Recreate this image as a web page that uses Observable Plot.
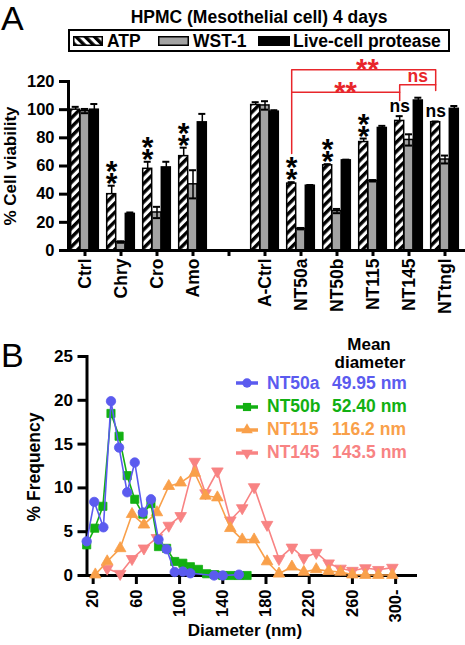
<!DOCTYPE html>
<html>
<head>
<meta charset="utf-8">
<script src="https://cdn.jsdelivr.net/npm/d3@7"></script>
<script src="https://cdn.jsdelivr.net/npm/@observablehq/plot@0.6"></script>
<style>
html, body { margin: 0; padding: 0; background: #fff; }
#root { position: relative; width: 465px; height: 645px; overflow: hidden; font-family: "Liberation Sans", Arial, Helvetica, sans-serif; font-weight: bold; color: #000; }
.abs { position: absolute; white-space: nowrap; line-height: 1; }
</style>
</head>
<body>
<svg width="0" height="0" style="position:absolute">
  <defs>
    <pattern id="hatch" patternUnits="userSpaceOnUse" width="6.5" height="6.5" patternTransform="rotate(45)">
      <rect width="6.5" height="6.5" fill="#fff"></rect>
      <rect width="3.4" height="6.5" fill="#000"></rect>
    </pattern>
    <pattern id="hatchL" patternUnits="userSpaceOnUse" width="6.5" height="6.5" patternTransform="rotate(-45)">
      <rect width="6.5" height="6.5" fill="#fff"></rect>
      <rect width="3.4" height="6.5" fill="#000"></rect>
    </pattern>
  </defs>
</svg>
<div id="root"></div>
<script>
// ---------- Panel A data ----------
const categories = ["Ctrl", "Chry", "Cro", "Amo", " ", "A-Ctrl", "NT50a", "NT50b", "NT115", "NT145", "NTtngl"];
const groups = ["Ctrl", "Chry", "Cro", "Amo", "A-Ctrl", "NT50a", "NT50b", "NT115", "NT145", "NTtngl"];
const atp     = [100, 40, 58, 67, 103.3, 47.5, 60.5, 77, 92, 91.1];
const atpErr  = [2, 6, 5, 6, 2, 1, 0.8, 2.5, 3.4, 0.5];
const wst     = [99, 6, 27, 47, 103, 15.5, 28, 49.5, 78.5, 64.6];
const wstErr  = [1.5, 0.5, 4, 10, 3, 0.5, 1.5, 0.5, 4, 2.8];
const prot    = [100, 26, 59, 91, 98.6, 46, 64, 87, 106.5, 100.6];
const protErr = [4, 1, 4, 6, 1, 0.5, 0.5, 1.5, 2, 2];
const atpSig  = ["", "**", "**", "**", "", "**", "**", "**", "ns", "ns"];
const yTicksA = [0, 20, 40, 60, 80, 100, 120];
const seriesA = ["ATP", "WST-1", "Live-cell protease"];

// ---------- Panel B data ----------
const nt50aX = [14, 21, 29.5, 36.5, 44, 51.5, 58.5, 66, 73.5, 80.5, 88, 95.5, 103, 110, 132, 140, 155];
const nt50aY = [3.9, 8.4, 5.5, 19.9, 14.6, 9.5, 12.9, 7.2, 8.7, 4.1, 3.0, 0.4, 0.45, 0.25, 0.0, 0.0, 0.1];
const nt50bX = [14, 21.5, 29, 36.5, 44, 51.5, 58.5, 66, 73.5, 80.5, 88, 95.5, 103, 110, 117.5, 125, 132.5, 140, 147.5, 155, 162.5];
const nt50bY = [3.5, 5.4, 7.9, 18.5, 15.9, 11.4, 8.7, 7.0, 8.2, 3.3, 3.1, 1.6, 1.4, 1.0, 0.7, 0.2, 0.1, 0, 0, 0, 0];
const nt115X = [22, 33, 45, 56, 67, 79, 90, 101, 114, 124, 135, 147, 158, 169, 181, 192, 204, 215, 226.5, 238, 249, 260, 272, 284, 297];
const nt115Y = [0.1, 1.6, 3.1, 7.0, 5.8, 7.2, 10.2, 10.6, 11.7, 9.1, 8.9, 5.4, 4.1, 4.1, 1.6, 0.2, 1.0, 0.4, 0.7, 0.5, 0.4, 0.1, 0.05, 0.05, 0.05];
const nt145X = [33, 45, 56, 67, 79, 90, 101, 114, 124, 135, 147, 158, 169, 181, 192, 204, 215, 226.5, 238, 249, 260, 272, 284, 297];
const nt145Y = [0.8, 0.2, 1.9, 3.1, 4.3, 5.7, 6.8, 13.0, 9.4, 11.9, 6.3, 7.7, 10.1, 5.8, 1.9, 3.2, 2.0, 2.6, 1.4, 0.8, 0.55, 0.85, 0.65, 0.9];
const seriesB = ["NT50a", "NT50b", "NT115", "NT145"];
const meanDiam = ["49.95 nm", "52.40 nm", "116.2 nm", "143.5 nm"];
const xTicksB = [20, 60, 100, 140, 180, 220, 260, 300];
const yTicksB = [0, 5, 10, 15, 20, 25];

// ---------- styles ----------
const FONT = '"Liberation Sans", Arial, Helvetica, sans-serif';
const RED = "#e8262b";
const colorsB = ["#5b5bef", "#12b012", "#f9a04a", "#f88383"];
const BW = 9.31; // bar width offset (band width)

const root = document.getElementById("root");

const rowsA = groups.map((g, i) => ({
  group: g, atp: atp[i], atpErr: atpErr[i], wst: wst[i], wstErr: wstErr[i],
  prot: prot[i], protErr: protErr[i], sig: atpSig[i]
}));
const starRows = rowsA.filter(d => d.sig === "**");
const nsRows = rowsA.filter(d => d.sig === "ns");

// significance brackets (drawn at the ATP bars)
const brackets = [
  {id: "low", x: "NT50a", y: 68.9}, {id: "low", x: "NT50a", y: 112.4}, {id: "low", x: "NT145", y: 112.4}, {id: "low", x: "NT145", y: 106.5},
  {id: "up", x: "NT50a", y: 112.4}, {id: "up", x: "NT50a", y: 128.3}, {id: "up", x: "NTtngl", y: 128.3}, {id: "up", x: "NTtngl", y: 113.6},
  {id: "ns", x: "NT145", y: 112.4}, {id: "ns", x: "NT145", y: 117.7}, {id: "ns", x: "NTtngl", y: 117.7}
];

const plotA = Plot.plot({
  width: 465, height: 265,
  marginLeft: 68, marginRight: 2, marginTop: 41, marginBottom: 55,
  style: {background: "transparent", fontFamily: FONT, fontWeight: "bold", fontSize: "16px", color: "#000", overflow: "visible"},
  x: {type: "band", domain: categories, paddingInner: 0.742, paddingOuter: 0.342, align: 0.46, axis: null},
  y: {domain: [0, 120], axis: null},
  marks: [
    Plot.barY(rowsA, {x: "group", y: "atp", dx: -BW, fill: "url(#hatch)", stroke: "#000", strokeWidth: 1.5}),
    Plot.barY(rowsA, {x: "group", y: "wst", fill: "#a3a3a3", stroke: "#000", strokeWidth: 1.5}),
    Plot.barY(rowsA, {x: "group", y: "prot", dx: BW, fill: "#000", stroke: "#000", strokeWidth: 1.5}),
    // error bars
    Plot.ruleX(rowsA, {x: "group", y1: "atp", y2: d => d.atp + d.atpErr, dx: -BW, stroke: "#000", strokeWidth: 1.5}),
    Plot.tickY(rowsA, {x: "group", y: d => d.atp + d.atpErr, dx: -BW, insetLeft: 1, insetRight: 1, stroke: "#000", strokeWidth: 2}),
    Plot.ruleX(rowsA, {x: "group", y1: d => d.wst - d.wstErr, y2: d => d.wst + d.wstErr, stroke: "#000", strokeWidth: 1.5}),
    Plot.tickY(rowsA, {x: "group", y: d => d.wst + d.wstErr, insetLeft: 1, insetRight: 1, stroke: "#000", strokeWidth: 2}),
    Plot.tickY(rowsA, {x: "group", y: d => d.wst - d.wstErr, insetLeft: 1, insetRight: 1, stroke: "#000", strokeWidth: 2}),
    Plot.ruleX(rowsA, {x: "group", y1: "prot", y2: d => d.prot + d.protErr, dx: BW, stroke: "#000", strokeWidth: 1.5}),
    Plot.tickY(rowsA, {x: "group", y: d => d.prot + d.protErr, dx: BW, insetLeft: 1, insetRight: 1, stroke: "#000", strokeWidth: 2}),
    // axes
    Plot.frame({anchor: "left", strokeWidth: 3}),
    Plot.frame({anchor: "bottom", strokeWidth: 3}),
    Plot.axisY({ticks: yTicksA, tickSize: 9, tickPadding: 5, strokeWidth: 3, label: null, fontSize: 16.5}),
    Plot.axisX({tickSize: 6, tickPadding: 2, tickRotate: -90, strokeWidth: 3, label: null, fontSize: 17.5, tickFormat: d => d.trim()}),
    // significance marks (two asterisks stacked vertically)
    Plot.text(starRows, {x: "group", y: d => d.atp + d.atpErr, text: () => "*\n*", dx: -BW, dy: 7, lineAnchor: "bottom", lineHeight: 0.4, fontSize: 30, fill: "#000"}),
    Plot.text(nsRows, {x: "group", y: d => d.atp + d.atpErr, text: "sig", dx: -BW, dy: -4, lineAnchor: "bottom", fontSize: 17.5, fill: "#000"}),
    Plot.line(brackets, {x: "x", y: "y", z: "id", dx: -BW, stroke: RED, strokeWidth: 1.5, curve: "linear"}),
    Plot.text(["**"], {x: () => "NT50b", y: () => 105.5, text: d => d, dx: 8.6, lineAnchor: "bottom", fontSize: 29, fill: RED}),
    Plot.text(["**"], {x: () => "NT115", y: () => 121.8, text: d => d, dx: -5.6, lineAnchor: "bottom", fontSize: 29, fill: RED}),
    Plot.text(["ns"], {x: () => "NT145", y: () => 119.3, text: d => d, dx: 8.7, lineAnchor: "bottom", fontSize: 17.5, fill: RED})
  ]
});
plotA.style.position = "absolute";
plotA.style.left = "0px";
plotA.style.top = "40px";
root.appendChild(plotA);

// ---------- Panel B ----------
const triangleDown = {
  draw(context, size) {
    const y = -Math.sqrt(size / (Math.sqrt(3) * 3));
    context.moveTo(0, -y * 2);
    context.lineTo(-Math.sqrt(3) * y, y);
    context.lineTo(Math.sqrt(3) * y, y);
    context.closePath();
  }
};
const symbolsB = ["circle", "square", "triangle", triangleDown];
const radiiB = [4.7, 4.6, 4.3, 4.3];
const xsB = [nt50aX, nt50bX, nt115X, nt145X];
const ysB = [nt50aY, nt50bY, nt115Y, nt145Y];
const seriesRows = xsB.map((xs, s) => xs.map((x, i) => ({x, y: ysB[s][i]})));
const drawOrder = [3, 2, 1, 0];
const lineMarks = [];
for (const s of drawOrder) {
  lineMarks.push(Plot.line(seriesRows[s], {x: "x", y: "y", stroke: colorsB[s], strokeWidth: 1.6}));
  lineMarks.push(Plot.dot(seriesRows[s], {x: "x", y: "y", symbol: symbolsB[s], r: radiiB[s], fill: colorsB[s], stroke: colorsB[s], strokeWidth: 0.8}));
}

const plotB = Plot.plot({
  width: 465, height: 305,
  marginLeft: 86.5, marginRight: 50, marginTop: 16, marginBottom: 70,
  style: {background: "transparent", fontFamily: FONT, fontWeight: "bold", fontSize: "16px", color: "#000", overflow: "visible"},
  x: {domain: [14.3, 318.4], axis: null},
  y: {domain: [0, 25], axis: null},
  marks: [
    Plot.frame({anchor: "left", strokeWidth: 3}),
    Plot.frame({anchor: "bottom", strokeWidth: 3}),
    Plot.axisY({ticks: yTicksB, tickSize: 9, tickPadding: 5, strokeWidth: 3, label: null, fontSize: 17}),
    Plot.axisX({ticks: xTicksB, tickSize: 9, tickPadding: 5, tickRotate: -90, strokeWidth: 3, label: null, fontSize: 16.5, tickFormat: d => d === 300 ? "300-" : String(d)}),
    ...lineMarks
  ]
});
plotB.style.position = "absolute";
plotB.style.left = "0px";
plotB.style.top = "340px";
root.appendChild(plotB);

// ---------- HTML text & legends ----------
function addText(txt, left, top, size, opts = {}) {
  const el = document.createElement("div");
  el.className = "abs";
  el.textContent = txt;
  el.style.left = left + "px";
  el.style.top = top + "px";
  el.style.fontSize = size + "px";
  if (opts.weight) el.style.fontWeight = opts.weight;
  if (opts.color) el.style.color = opts.color;
  if (opts.transform) el.style.transform = opts.transform;
  root.appendChild(el);
  return el;
}
addText("A", 1, 1, 34, {weight: "normal"});
addText("B", 1, 338, 34, {weight: "normal"});
addText("HPMC (Mesothelial cell) 4 days", 259, 8.5, 17.5, {transform: "translateX(-50%)"});

// Legend box for A
const box = document.createElement("div");
box.style.cssText = "position:absolute;left:68px;top:29px;width:382px;height:23px;border:2px solid #000;box-sizing:border-box;background:#fff;";
root.appendChild(box);
const swatchStyles = [
  {left: 73, width: 30, fill: "url(#hatchL)"},
  {left: 158, width: 31, fill: "#a3a3a3"},
  {left: 258, width: 32, fill: "#000"}
];
const legendTextLeft = [107, 193, 293];
seriesA.forEach((name, i) => {
  const sw = swatchStyles[i];
  const ns = "http://www.w3.org/2000/svg";
  const svg = document.createElementNS(ns, "svg");
  svg.setAttribute("width", sw.width);
  svg.setAttribute("height", 10);
  svg.style.cssText = `position:absolute;left:${sw.left}px;top:36px;overflow:visible`;
  const r = document.createElementNS(ns, "rect");
  r.setAttribute("x", 0.75); r.setAttribute("y", 0.75);
  r.setAttribute("width", sw.width - 1.5); r.setAttribute("height", 8.5);
  r.setAttribute("fill", sw.fill); r.setAttribute("stroke", "#000"); r.setAttribute("stroke-width", 1.5);
  svg.appendChild(r);
  root.appendChild(svg);
  addText(name, legendTextLeft[i], 32.5, 17.5);
});

// Axis titles
addText("% Cell viability", 10, 166, 17, {transform: "translate(-50%,-50%) rotate(-90deg)"});
addText("% Frequency", 34.5, 467, 17.5, {transform: "translate(-50%,-50%) rotate(-90deg)"});
addText("Diameter (nm)", 245, 622, 17, {transform: "translateX(-50%)"});

// Legend for B
addText("Mean", 369, 335.5, 17, {transform: "translateX(-50%)"});
addText("diameter", 370, 354, 17, {transform: "translateX(-50%)"});
const rowY = [383.3, 406.7, 430, 452.7];
seriesB.forEach((name, i) => {
  const ns = "http://www.w3.org/2000/svg";
  const svg = document.createElementNS(ns, "svg");
  svg.setAttribute("width", 26); svg.setAttribute("height", 14);
  svg.style.cssText = `position:absolute;left:234px;top:${rowY[i] - 7}px;overflow:visible`;
  const ln = document.createElementNS(ns, "line");
  ln.setAttribute("x1", 2); ln.setAttribute("x2", 24); ln.setAttribute("y1", 7); ln.setAttribute("y2", 7);
  ln.setAttribute("stroke", colorsB[i]); ln.setAttribute("stroke-width", 3.5);
  svg.appendChild(ln);
  const p = document.createElementNS(ns, "path");
  const sym = typeof symbolsB[i] === "string"
    ? {circle: d3.symbolCircle, square: d3.symbolSquare, triangle: d3.symbolTriangle}[symbolsB[i]]
    : symbolsB[i];
  p.setAttribute("d", d3.symbol(sym, Math.PI * radiiB[i] * radiiB[i])());
  p.setAttribute("transform", "translate(13,7)");
  p.setAttribute("fill", colorsB[i]);
  svg.appendChild(p);
  root.appendChild(svg);
  addText(name, 267, rowY[i] - 8.75, 17.5, {color: colorsB[i]});
  addText(meanDiam[i], 332, rowY[i] - 8.75, 17.5, {color: colorsB[i]});
});
</script>
</body>
</html>
